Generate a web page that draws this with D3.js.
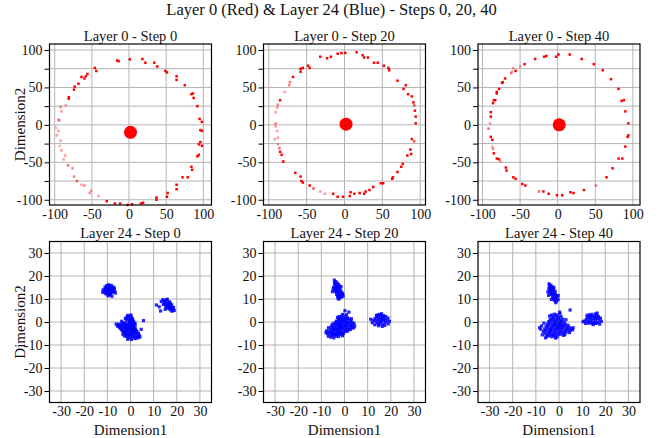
<!DOCTYPE html>
<html>
<head>
<meta charset="utf-8">
<script src="https://cdn.jsdelivr.net/npm/d3@7"></script>
<style>
  body { margin: 0; background: #fff; }
  text { font-family: "Liberation Serif", "Times New Roman", serif; fill: #111; }
</style>
</head>
<body>
<svg id="chart" width="663" height="438"></svg>
<script>
// Layer 0 points [x, y, weight]
var layer0Step0 = [[-16,86,1],[-14,85,1],[1,87.5,1],[18,88,1],[22,83,1],[34,83,1],[38,78,1],[49,72,1],[51,70,1],
  [64,65,1],[64,60,1],[75,53,1],[84,41,1],[86,42,1],[87,36,1],[92,25,1],[95,8,1],[98,4,1],[98,-8,1],[96,-7,1],
  [96,-23,1],[98,-28,1],[94,-26,1],[92,-42,1],[94,-40,1],[84,-56,1],[85,-60,1],[79,-70,1],[72,-70,1],[64,-80,1],
  [64,-86,1],[52,-91,1],[51,-96,1],[37,-97,1],[37,-100,1],[19,-104,1],[16,-105,1],[4,-106,1],[-2,-107,1],
  [-12,-105,1],[-19,-105,1],[-30,-102,1],[-41,-95,0.4],[-53,-91,0.4],[-51,-88,0.4],[-60,-81,0.5],[-64,-80,0.4],
  [-70,-75,0.6],[-74,-69,0.5],[-76,-58,0.5],[-82,-54,0.6],[-88,-46,0.4],[-86,-41,0.4],[-91,-34,0.4],[-93,-28,0.3],
  [-92,-21,0.4],[-97,-14,0.4],[-95,-8,0.4],[-98,-4,0.3],[-94,6,0.5],[-95,7,0.4],[-91,18,0.4],[-92,24,0.5],
  [-85,26,0.4],[-81,37,1],[-81,35,1],[-74,47,1],[-73,51,1],[-68,55,1],[-64,64,1],[-60,62,1],[-58,65,1],
  [-56,68,1],[-46,76,1],[-44,72,1]];
var layer0Step20 = [[-32,91,1],[-23,89,1],[-18,91,1],[-9,95,1],[-4,96,1],[1,96,1],[16,97,1],[24,93,1],[26,90,1],
  [31,90,1],[39,83,1],[44,83,1],[52,79,1],[58,76,1],[59,73,1],[70,59,1],[78,48,1],[81,53,1],[84,41,1],[89,38,1],
  [91,30,1],[92,26,0.7],[93,19,1],[94,11,1],[94,2,1],[89,-19,1],[92,-22,0.7],[87,-33,1],[88,-39,1],[83,-41,1],
  [77,-52,1],[75,-56,1],[70,-63,1],[64,-70,1],[63,-72,1],[51,-78,1],[48,-78,1],[38,-83,1],[33,-87,1],[28,-89,1],
  [26,-92,1],[20,-91,1],[13,-92,1],[8,-90,1],[7,-95,1],[-2,-96,1],[-9,-96,1],[-15,-92,1],[-26,-92,0.4],
  [-32,-89,0.4],[-41,-85,0.7],[-46,-81,1],[-55,-77,1],[-57,-75,1],[-58,-69,1],[-65,-64,1],[-81,-49,1],
  [-83,-40,1],[-85,-36,1],[-86,-31,0.6],[-88,-26,0.4],[-92,-19,0.4],[-88,-17,0.4],[-89,-8,0.4],[-91,-2,0.4],
  [-91,2,0.5],[-91,17,0.4],[-89,23,0.4],[-88,27,0.5],[-85,33,1],[-79,44,0.4],[-73,53,0.5],[-72,57,0.6],
  [-68,64,1],[-58,71,1],[-58,75,1],[-55,76,1],[-48,79,1],[-46,76,1]];
var layer0Step40 = [[-50,78,0.4],[-44,81,1],[-59,76,0.4],[-61,71,0.4],[-62,69,0.5],[-56,72,1],[-70,62,1],
  [-73,57,1],[-74,56,1],[-78,48,1],[-81,44,1],[-81,42,1],[-85,33,1],[-86,29,1],[-83,33,1],[-89,17,1],
  [-89,11,1],[-90,2,0.4],[-92,-5,0.6],[-89,-16,1],[-87,-20,1],[-87,-29,0.4],[-86,-32,0.5],[-85,-38,1],
  [-81,-45,1],[-78,-46,1],[-76,-49,0.4],[-69,-57,1],[-68,-61,1],[-59,-70,1],[-56,-72,1],[-47,-79,1],
  [-43,-81,1],[-25,-89,0.6],[-19,-89,1],[-12,-92,1],[-1,-94,1],[6,-94,1],[17,-90,1],[21,-91,1],[35,-87,1],
  [51,-81,0.5],[65,-70,1],[73,-58,1],[81,-45,1],[86,-45,1],[90,-29,1],[94,-14,1],[93,-16,1],[94,2,1],
  [90,18,1],[88,33,1],[85,32,1],[81,48,1],[71,61,1],[60,73,1],[48,81,1],[32,88,1],[16,94,1],[1,94,1],
  [-2,91,1],[-15,92,1],[-18,91,1],[-30,88,1]];
var layer0Centers = [[2,-10],[2,1],[2,0]];

// Layer 24 clusters
var l24s0Upper = [[-9.3,13.9],[-8.1,14.6],[-10.2,13.1],[-9.0,15.6],[-7.6,13.2],[-10.8,14.4],[-8.6,12.4],
  [-9.9,15.1],[-7.2,14.1],[-11.4,13.6],[-8.9,11.7],[-9.6,12.8],[-8.3,15.9],[-10.5,12.2],[-7.9,12.9],[-9.1,14.8],
  [-11.0,15.2],[-6.8,13.4],[-8.4,13.7],[-10.0,14.0],[-9.5,16.2],[-7.5,15.2],[-11.8,14.0],[-8.8,13.3],
  [-10.3,15.8],[-9.7,11.4],[-6.5,12.6],[-8.0,11.2],[-10.6,13.5],[-9.2,12.1],[-8.5,14.2],[-7.0,14.8],
  [-12.0,12.9],[-9.4,14.5],[-10.9,12.6]];
var l24s0Right = [[14.5,9.2],[15.1,8.6],[15.8,7.9],[16.4,7.2],[17.0,6.6],[17.6,5.9],[18.3,5.4],[15.5,9.6],
  [16.2,8.3],[16.9,7.5],[17.4,7.0],[18.0,6.2],[14.8,8.0],[15.4,7.3],[16.0,6.5],[16.6,5.8],[17.8,7.4],[18.6,6.3],
  [14.2,7.6],[13.3,8.9],[15.9,9.9],[16.8,8.8],[17.2,5.3],[18.9,5.0],[12.4,6.6],[11.2,7.4],[13.0,4.8],[15.0,5.5],
  [16.5,6.9],[17.3,8.1],[14.0,9.7],[17.9,4.7],[16.1,7.7],[15.3,6.2]];
var l24s0Core = [[-1.5,2.2],[-0.5,2.6],[0.4,2.0],[-1.0,1.5],[0.0,1.2],[0.8,1.4],[-1.8,0.8],[-0.6,0.5],[0.5,0.3],
  [1.0,0.9],[-1.2,2.9],[0.2,3.0],[-2.2,1.6],[1.3,0.2],[-5.2,-1.0],[-4.6,-1.5],[-4.0,-0.8],[-3.6,-2.0],[-4.9,-2.2],
  [-3.2,-1.1],[-2.8,-0.4],[-4.3,-2.8],[-3.9,-3.3],[-5.6,-1.8],[-3.0,-2.6],[-2.5,-1.7],[-2.1,-0.6],[-1.4,-1.2],
  [-0.7,-0.9],[0.1,-0.5],[0.9,-1.1],[1.6,-0.8],[-2.4,-2.3],[-1.7,-2.8],[-0.9,-2.1],[-0.2,-1.8],[0.6,-2.4],
  [1.3,-1.9],[2.0,-2.6],[-2.6,-3.6],[-1.9,-4.1],[-1.1,-3.4],[-0.4,-3.9],[0.3,-3.2],[1.1,-3.7],[1.8,-3.1],
  [2.5,-3.9],[-2.2,-5.0],[-1.4,-5.6],[-0.6,-4.8],[0.2,-5.3],[0.9,-4.6],[1.7,-5.2],[2.4,-4.7],[3.1,-5.5],
  [-1.8,-6.3],[-0.9,-6.9],[-0.1,-6.2],[0.7,-6.7],[1.5,-6.1],[2.2,-6.6],[3.0,-6.2],[3.7,-5.8],[4.1,-6.4],
  [-1.2,-7.5],[0.4,-7.6],[1.9,-7.2],[-2.9,-4.5],[-3.3,-5.3],[-2.7,-6.0],[-0.3,-2.6],[0.5,-1.4],[-1.5,-3.2],
  [1.0,-2.9],[2.8,-4.3],[3.4,-4.9],[-0.8,-5.8],[1.2,-5.8],[2.0,-1.3],[-2.0,-1.5],[0.0,-4.3],[-1.6,-4.6],
  [1.4,-4.2],[3.6,-6.8],[2.6,-7.0],[-3.5,-3.8],[-0.5,-0.2],[0.8,-3.4],[-1.0,-2.5],[2.2,-3.5],[1.9,-0.5],
  [-2.4,-4.3],[5.6,0.6],[-6.2,-0.9],[4.6,-3.2],[-3.8,0.3]];

var l24s20Upper = [[-3.8,17.6],[-4.3,16.9],[-3.2,17.0],[-4.0,16.1],[-3.5,15.6],[-2.6,16.3],[-4.6,15.2],
  [-3.9,14.8],[-3.0,15.0],[-2.2,14.6],[-4.2,13.9],[-3.3,14.1],[-2.5,13.7],[-1.7,13.9],[-3.7,13.0],[-2.9,12.8],
  [-2.0,12.6],[-1.2,12.9],[-3.4,12.0],[-2.6,11.7],[-1.8,11.5],[-1.0,11.8],[-3.0,11.0],[-2.1,10.6],[-1.4,10.8],
  [-0.6,11.2],[-2.7,10.2],[-4.9,14.5],[-5.2,13.2],[-1.5,15.4],[-4.4,18.2],[-2.4,10.0],[-3.6,13.5],[-2.3,15.7],
  [-0.8,12.3]];
var l24s20Right = [[13.2,1.5],[14.0,2.2],[14.8,1.8],[15.6,2.6],[16.4,2.0],[17.2,1.4],[13.6,0.4],[14.5,0.9],
  [15.3,0.3],[16.1,1.1],[16.9,0.6],[17.7,-0.1],[14.1,-0.5],[15.0,-0.9],[15.8,-0.3],[16.6,-1.0],[17.4,-1.5],
  [18.3,0.8],[18.8,1.7],[15.2,3.3],[16.0,3.6],[14.4,3.0],[12.5,0.7],[11.3,1.2],[12.0,-0.3],[13.1,-1.2],
  [18.9,-0.8],[19.4,0.3],[16.3,-1.9],[14.7,-1.6],[15.7,1.4],[16.8,2.8],[13.8,2.9],[17.8,2.4]];
var l24s20Core = [[-3.0,2.0],[-2.2,2.4],[-1.3,2.1],[-0.4,2.6],[0.5,2.2],[1.3,1.8],[-2.6,1.2],[-1.7,1.5],
  [-0.8,1.1],[0.1,1.4],[1.0,0.9],[1.9,1.3],[2.6,0.6],[-3.4,0.4],[-2.1,0.6],[-1.2,0.2],[-0.3,0.5],[0.6,0.1],
  [1.5,-0.2],[2.4,-0.4],[3.3,-0.1],[4.1,-0.6],[-2.8,-0.3],[-1.9,-0.7],[-1.0,-0.5],[-0.1,-0.8],[0.8,-1.0],
  [1.7,-1.3],[2.6,-1.5],[3.5,-1.2],[4.4,-1.8],[0.9,3.2],[0.2,4.9],[1.9,4.3],[-0.9,3.3],[3.0,1.4],
  [-4.9,-0.8],[-4.1,-1.3],[-3.3,-1.0],[-2.5,-1.6],[-1.6,-1.9],[-0.7,-1.7],[0.2,-2.0],[1.1,-2.3],[2.1,-2.6],
  [3.0,-2.4],[-5.6,-2.0],[-4.7,-2.4],[-3.8,-2.2],[-2.9,-2.7],[-2.0,-3.0],[-1.1,-2.8],[-0.2,-3.1],[0.7,-3.4],
  [1.6,-3.2],[-6.1,-3.1],[-5.2,-3.5],[-4.3,-3.3],[-3.4,-3.8],[-2.5,-4.1],[-1.6,-3.9],[-0.7,-4.4],[0.2,-4.2],
  [-6.6,-4.2],[-5.7,-4.6],[-4.8,-4.4],[-3.9,-4.9],[-3.0,-5.2],[-2.1,-5.0],[-1.2,-5.5],[-6.2,-5.3],[-5.3,-5.8],
  [-4.4,-5.6],[-3.5,-6.1],[-2.6,-6.3],[-7.4,-5.0],[-7.0,-6.2],[-7.7,-3.8],[-5.9,-6.6],[-4.6,-6.9],[-6.9,-2.5],
  [-3.1,-3.3],[-1.9,-4.6],[-0.5,-5.0],[1.3,-4.0],[2.5,-3.3],[-4.0,-0.2],[-2.3,-2.2],[-4.6,-3.0],[-3.7,-5.4],
  [-5.0,-5.0],[-1.4,-2.4],[0.4,-1.4],[-1.8,-1.1],[-5.4,-1.3],[3.9,-2.6],[-0.9,-6.0],[-8.0,-4.6]];

var l24s40Upper = [[-4.1,15.8],[-3.5,16.0],[-3.8,15.1],[-3.0,15.3],[-4.4,14.5],[-3.6,14.4],[-2.8,14.6],
  [-4.0,13.6],[-3.2,13.7],[-2.4,13.9],[-1.7,13.4],[-3.5,12.8],[-2.7,12.9],[-1.9,12.6],[-3.9,12.2],[-3.1,12.0],
  [-2.3,11.8],[-1.5,11.9],[-2.8,11.1],[-2.0,10.9],[-1.2,11.2],[-2.4,10.2],[-1.6,10.0],[-0.8,10.4],[-1.9,9.3],
  [-1.1,9.1],[-0.4,9.7],[-4.8,13.1],[-4.5,11.6],[-0.3,11.5],[-3.3,9.8],[-1.4,8.4],[-4.3,16.6],[-2.2,15.0]];
var l24s40Right = [[11.0,0.4],[11.8,1.0],[12.6,0.3],[13.4,1.2],[14.2,0.6],[15.0,1.4],[15.8,0.8],[16.6,1.6],
  [17.4,0.9],[12.2,1.8],[13.0,2.3],[13.8,1.9],[14.6,2.6],[15.4,2.2],[16.2,2.9],[17.0,2.4],[12.8,-0.5],
  [13.6,-0.2],[14.4,-0.7],[15.2,-0.3],[16.0,-0.6],[16.8,-0.2],[14.0,3.3],[15.6,3.5],[16.5,3.9],[10.4,0.1],
  [11.5,-0.6],[17.9,1.7],[18.3,0.3],[17.6,-0.9],[12.1,2.9],[14.8,-1.1],[13.2,3.1],[15.9,1.8]];
var l24s40Core = [[-3.2,3.0],[-2.0,3.4],[-0.8,3.1],[0.4,3.6],[-2.6,2.1],[-1.4,2.4],[-0.2,2.0],[0.9,2.3],
  [-3.8,1.2],[-2.7,1.4],[-1.6,1.0],[-0.5,1.3],[0.6,0.9],[1.7,1.2],[-4.4,0.2],[-3.3,0.5],[-2.2,0.1],[-1.1,0.4],
  [0.0,-0.1],[1.1,0.2],[2.2,-0.2],[-5.0,-0.9],[-3.9,-0.6],[-2.8,-1.0],[-1.7,-0.7],[-0.6,-1.1],[0.5,-0.8],
  [1.6,-1.2],[2.7,-1.0],[3.8,-1.4],[-5.6,-2.0],[-4.5,-1.7],[-3.4,-2.1],[-2.3,-1.8],[-1.2,-2.2],[-0.1,-1.9],
  [1.0,-2.3],[2.1,-2.0],[3.2,-2.4],[4.3,-2.2],[5.2,-2.8],[-6.2,-3.1],[-5.1,-2.8],[-4.0,-3.2],[-2.9,-2.9],
  [-1.8,-3.3],[-0.7,-3.0],[0.4,-3.4],[1.5,-3.1],[2.6,-3.5],[3.7,-3.3],[4.8,-3.7],[5.9,-3.4],[-6.8,-4.2],
  [-5.7,-3.9],[-4.6,-4.3],[-3.5,-4.0],[-2.4,-4.4],[-1.3,-4.1],[-0.2,-4.5],[0.9,-4.2],[2.0,-4.6],[3.1,-4.4],
  [-6.0,-5.1],[-4.9,-5.4],[-3.8,-5.0],[-2.7,-5.5],[-1.6,-5.2],[-0.5,-5.6],[0.6,-5.3],[-5.3,-6.3],[-4.2,-6.0],
  [-3.1,-6.4],[-2.0,-6.1],[-0.9,-6.6],[-7.9,-3.1],[-8.4,-2.5],[-7.2,-5.6],[-5.8,-6.9],[-1.5,-7.0],[1.9,-5.8],
  [4.5,-4.6],[6.1,-2.5],[0.3,4.3],[4.8,5.2],[-4.1,2.6],[3.0,1.0],[-6.5,-0.5],[-7.5,-1.7],[2.5,-5.5],
  [-3.6,-3.5],[-1.9,-1.4],[0.9,-1.6],[-0.4,-2.7]];

var steps = [0, 20, 40];
var layer0Ticks = [-100, -50, 0, 50, 100];
var layer0YGrid = [-100, -75, -50, -25, 0, 25, 50, 75, 100];
var layer24Ticks = [-30, -20, -10, 0, 10, 20, 30];

var svg = d3.select("#chart");
var W = 663, H = 438;
svg.append("rect").attr("width", W).attr("height", H).attr("fill", "#fff");

var colX = [49.5, 263.5, 478], pw = 162, rowY = [44, 241.5], ph = 161;
var xDomains0 = [[-107, 111], [-107, 107], [-106, 109.5]];

svg.append("text")
    .attr("x", W / 2).attr("y", 15)
    .attr("text-anchor", "middle")
    .style("font-size", "16.5px")
    .text("Layer 0 (Red) & Layer 24 (Blue) - Steps 0, 20, 40");

var topData = [layer0Step0, layer0Step20, layer0Step40];
var bottomData = [
  l24s0Core.concat(l24s0Upper, l24s0Right),
  l24s20Core.concat(l24s20Upper, l24s20Right),
  l24s40Core.concat(l24s40Upper, l24s40Right)
];
var alpha = d3.scaleLinear().domain([0, 1]).range([0, 1]);

function panel(col, row, title, xdom, ydom, xticks, ygrid, yticks) {
  var g = svg.append("g").attr("transform", "translate(" + colX[col] + "," + rowY[row] + ")");
  var x = d3.scaleLinear().domain(xdom).range([0, pw]);
  var y = d3.scaleLinear().domain(ydom).range([ph, 0]);

  // grid
  g.append("g").selectAll("line").data(xticks).join("line")
      .attr("x1", d => x(d)).attr("x2", d => x(d))
      .attr("y1", 0).attr("y2", ph)
      .attr("stroke", "#b4b4b4").attr("stroke-width", 1);
  g.append("g").selectAll("line").data(ygrid).join("line")
      .attr("y1", d => y(d)).attr("y2", d => y(d))
      .attr("x1", 0).attr("x2", pw)
      .attr("stroke", "#b4b4b4").attr("stroke-width", 1);

  // axes
  var xa = g.append("g").attr("transform", "translate(0," + ph + ")")
      .call(d3.axisBottom(x).tickValues(xticks).tickSize(0).tickPadding(4).tickFormat(d => String(d)));
  var ya = g.append("g")
      .call(d3.axisLeft(y).tickValues(ygrid).tickSize(5).tickPadding(2)
        .tickFormat(d => yticks.indexOf(d) >= 0 ? String(d) : ""));
  [xa, ya].forEach(function(a) {
    a.attr("font-family", null).attr("font-size", null);
    a.select(".domain").remove();
    a.selectAll("text")
        .attr("font-family", "'Liberation Serif', serif")
        .attr("font-size", 14)
        .attr("fill", "#000");
    a.selectAll("line").attr("stroke", "#000");
  });

  g.append("text")
      .attr("x", pw / 2).attr("y", -3.5)
      .attr("text-anchor", "middle")
      .style("font-size", "14.5px")
      .text(title);

  return {g: g, x: x, y: y};
}

steps.forEach(function(s, i) {
  var p = panel(i, 0, "Layer 0 - Step " + s, xDomains0[i], [-107, 108], layer0Ticks, layer0YGrid, layer0Ticks);
  p.g.append("g").selectAll("rect").data(topData[i]).join("rect")
      .attr("x", d => p.x(d[0]) - 1.25).attr("y", d => p.y(d[1]) - 1.25)
      .attr("width", 2.5).attr("height", 2.5)
      .attr("fill", "#ff0000")
      .attr("fill-opacity", d => alpha(d[2]));
  p.g.append("circle")
      .attr("cx", p.x(layer0Centers[i][0])).attr("cy", p.y(layer0Centers[i][1]))
      .attr("r", 6.5).attr("fill", "#ff0000");
  p.g.append("rect").attr("width", pw).attr("height", ph)
      .attr("fill", "none").attr("stroke", "#000").attr("stroke-width", 1.2);

  var q = panel(i, 1, "Layer 24 - Step " + s, [-35, 35], [-35, 35], layer24Ticks, layer24Ticks, layer24Ticks);
  q.g.append("g").selectAll("rect").data(bottomData[i]).join("rect")
      .attr("x", d => q.x(d[0]) - 1.6).attr("y", d => q.y(d[1]) - 1.6)
      .attr("width", 3.2).attr("height", 3.2)
      .attr("fill", "#0000ff")
      .attr("fill-opacity", 0.85);
  q.g.append("rect").attr("width", pw).attr("height", ph)
      .attr("fill", "none").attr("stroke", "#000").attr("stroke-width", 1.2);

  svg.append("text")
      .attr("x", colX[i] + pw / 2).attr("y", 435)
      .attr("text-anchor", "middle")
      .style("font-size", "15px")
      .text("Dimension1");
});

[0, 1].forEach(function(r) {
  svg.append("text")
      .attr("transform", "translate(25," + (rowY[r] + ph / 2) + ") rotate(-90)")
      .attr("text-anchor", "middle")
      .style("font-size", "15px")
      .text("Dimension2");
});
</script>
</body>
</html>
